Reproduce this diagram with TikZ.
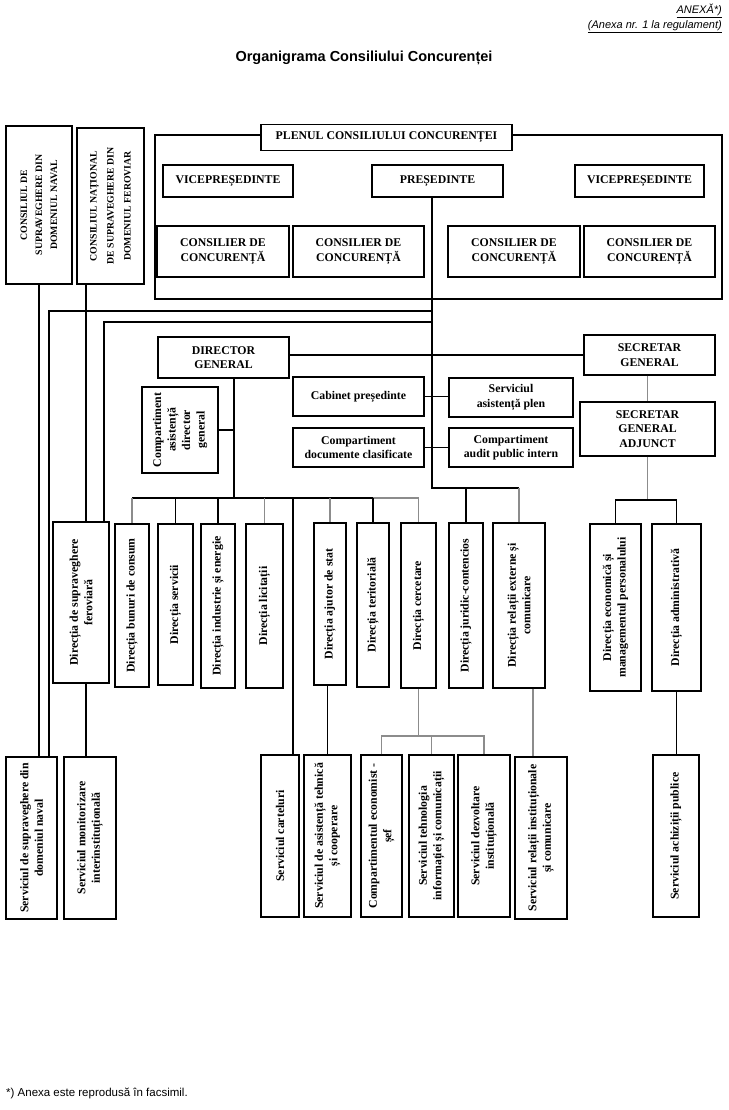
\documentclass[tikz,border=0pt]{standalone}
\usepackage{fontspec}
\setmainfont{Liberation Serif}
\newfontfamily\arial{Liberation Sans}

\begin{document}
\begin{tikzpicture}
    [
        x = 1pt, y = -1pt,
        box/.style = {draw, fill = white, line width = 1.3pt, inner sep = 1pt, align = center,
            font = \bfseries\fontsize{11.8}{14.5}\selectfont},
        vbox/.style = {box, rotate = 90},
        capsbox/.style = {vbox, font = \bfseries\fontsize{9.8}{15}\selectfont},
        link/.style = {line width = 1.1pt},
        grey link/.style = {link, draw = black!45},
        plain/.style = {inner sep = 0}
    ]
        \useasboundingbox (0,0) rectangle (728,1110);

        \node[plain, anchor = east, font = \arial\itshape\fontsize{11}{13}\selectfont] (Anexa) at (722,11) {\underline{ANEXĂ*)}};
        \node[plain, anchor = east, font = \arial\itshape\fontsize{11}{13}\selectfont] (Regulament) at (722,27) {\underline{(Anexa nr. 1 la regulament)}};
        \node[plain, font = \arial\bfseries\fontsize{14.5}{17}\selectfont] (Titlu) at (364,58) {Organigrama Consiliului Concurenței};
        \node[plain, anchor = west, font = \arial\fontsize{11.5}{14}\selectfont] (Nota) at (6,1093) {*) Anexa este reprodusă în facsimil.};

        \node[capsbox, minimum width = 158, minimum height = 66] (ConsNaval) at (39,205) {CONSILIUL DE\\SUPRAVEGHERE DIN\\DOMENIUL NAVAL};
        \node[capsbox, minimum width = 156, minimum height = 67, font = \bfseries\fontsize{9.8}{17}\selectfont] (ConsFero) at (110.5,206) {CONSILIUL NAȚIONAL\\DE SUPRAVEGHERE DIN\\DOMENIUL FEROVIAR};

        \node[draw, line width = 1.3pt, minimum width = 567, minimum height = 164] (PlenulFrame) at (438.5,217) {};
        \node[box, minimum width = 251, minimum height = 26] (Plenul) at (386.5,137.5) {PLENUL CONSILIULUI CONCURENȚEI};
        \node[box, minimum width = 130, minimum height = 32] (Vice1) at (228,181) {VICEPREȘEDINTE};
        \node[box, minimum width = 131, minimum height = 32] (Presedinte) at (437.5,181) {PREȘEDINTE};
        \node[box, minimum width = 129, minimum height = 32] (Vice2) at (639.5,181) {VICEPREȘEDINTE};
        \node[box, minimum width = 132, minimum height = 51] (Cons1) at (223,251.5) {CONSILIER DE\\CONCURENȚĂ};
        \node[box, minimum width = 131, minimum height = 51] (Cons2) at (358.5,251.5) {CONSILIER DE\\CONCURENȚĂ};
        \node[box, minimum width = 132, minimum height = 51] (Cons3) at (514,251.5) {CONSILIER DE\\CONCURENȚĂ};
        \node[box, minimum width = 131, minimum height = 51] (Cons4) at (649.5,251.5) {CONSILIER DE\\CONCURENȚĂ};

        \node[box, minimum width = 131, minimum height = 41] (DirGen) at (223.5,357.5) {DIRECTOR\\GENERAL};
        \node[vbox, minimum width = 86, minimum height = 76] (AsistDG) at (180,430) {Compartiment\\asistență\\director\\general};
        \node[box, minimum width = 131, minimum height = 39] (Cabinet) at (358.5,396.5) {Cabinet președinte};
        \node[box, minimum width = 124, minimum height = 39] (AsistPlen) at (511,397.5) {Serviciul\\asistență plen};
        \node[box, minimum width = 131, minimum height = 39] (Documente) at (358.5,447.5) {Compartiment\\documente clasificate};
        \node[box, minimum width = 124, minimum height = 39] (Audit) at (511,447.5) {Compartiment\\audit public intern};
        \node[box, minimum width = 131, minimum height = 40] (SecGen) at (649.5,355) {SECRETAR\\GENERAL};
        \node[box, minimum width = 135, minimum height = 54] (SecAdj) at (647.5,429) {SECRETAR\\GENERAL\\ADJUNCT};

        \node[vbox, minimum width = 161, minimum height = 56] (DirFero) at (81,602.5) {Direcția de supraveghere\\feroviară};
        \node[vbox, minimum width = 163, minimum height = 34] (Bunuri) at (132,605.5) {Direcția bunuri de consum};
        \node[vbox, minimum width = 161, minimum height = 35] (Servicii) at (175.5,604.5) {Direcția servicii};
        \node[vbox, minimum width = 164, minimum height = 34] (Industrie) at (218,606) {Direcția industrie și energie};
        \node[vbox, minimum width = 164, minimum height = 37] (Licitatii) at (264.5,606) {Direcția licitații};
        \node[vbox, minimum width = 162, minimum height = 32] (Ajutor) at (330,604) {Direcția ajutor de stat};
        \node[vbox, minimum width = 164, minimum height = 32] (Teritoriala) at (373,605) {Direcția teritorială};
        \node[vbox, minimum width = 165, minimum height = 35] (Cercetare) at (418.5,605.5) {Direcția cercetare};
        \node[vbox, minimum width = 165, minimum height = 34] (Juridic) at (466,605.5) {Direcția juridic-contencios};
        \node[vbox, minimum width = 165, minimum height = 52] (RelExt) at (519,605.5) {Direcția relații externe și\\comunicare};
        \node[vbox, minimum width = 167, minimum height = 51] (Economica) at (615.5,607.5) {Direcția economică și\\managementul personalului};
        \node[vbox, minimum width = 167, minimum height = 49] (Administrativa) at (676.5,607.5) {Direcția administrativă};

        \node[vbox, minimum width = 162, minimum height = 51] (ServNaval) at (31.5,838) {Serviciul de supraveghere din\\domeniul naval};
        \node[vbox, minimum width = 162, minimum height = 52] (Monitorizare) at (90,838) {Serviciul monitorizare\\interinstituțională};
        \node[vbox, minimum width = 162, minimum height = 38] (Carteluri) at (280,836) {Serviciul carteluri};
        \node[vbox, minimum width = 162, minimum height = 47] (AsistTehnica) at (327.5,836) {Serviciul de asistență tehnică\\și cooperare};
        \node[vbox, minimum width = 162, minimum height = 41] (Economist) at (381.5,836) {Compartimentul economist -\\șef};
        \node[vbox, minimum width = 162, minimum height = 45] (Tehnologie) at (431.5,836) {Serviciul tehnologia\\informației și comunicații};
        \node[vbox, minimum width = 162, minimum height = 52] (Dezvoltare) at (484,836) {Serviciul dezvoltare\\instituțională};
        \node[vbox, minimum width = 162, minimum height = 52] (RelInst) at (541,838) {Serviciul relații instituționale\\și comunicare};
        \node[vbox, minimum width = 162, minimum height = 46] (Achizitii) at (676,836) {Serviciul achiziții publice};

        \coordinate (Trunk) at (432,488);
        \coordinate (RailNaval) at (49,311);
        \coordinate (RailFero) at (104,322);
        \coordinate (RailB) at (86,0);
        \coordinate (RailDG) at (234,498);
        \coordinate (RailCarteluri) at (293,498);
        \coordinate (RailRelatii) at (533,0);
        \coordinate (BusDirectii) at (0,498);
        \coordinate (BusSecretar) at (0,500);
        \coordinate (BusCercetare) at (0,736);

        \draw[link] (Presedinte.south -| Trunk) -- (Trunk) -- (Trunk -| RelExt.east);
        \draw[grey link] (Trunk -| RelExt.east) -- (RelExt.east);
        \draw[link] (Trunk -| Juridic.east) -- (Juridic.east);
        \draw[link] (RailNaval -| Trunk) -- (RailNaval) -- (RailNaval |- ServNaval.east);
        \draw[link] (RailFero -| Trunk) -- (RailFero) -- (RailFero |- DirFero.east);
        \draw[link] (ConsNaval.west) -- (ConsNaval.west |- ServNaval.east);
        \draw[link] (ConsFero.west -| RailB) -- (DirFero.east -| RailB);
        \draw[link] (DirFero.west -| RailB) -- (Monitorizare.east -| RailB);

        \draw[link] (DirGen.east |- SecGen.west) -- (SecGen.west);
        \draw[link] (Cabinet.east) -- (Cabinet.east -| AsistPlen.west);
        \draw[link] (Documente.east) -- (Documente.east -| Audit.west);
        \draw[link] (DirGen.south -| RailDG) -- (RailDG);
        \draw[link] (AsistDG.south) -- (AsistDG.south -| RailDG);

        \draw[link] (Bunuri.east |- BusDirectii) -- (Teritoriala.east |- BusDirectii);
        \draw[grey link] (Teritoriala.east |- BusDirectii) -- (Cercetare.east |- BusDirectii);
        \foreach \dir in {Servicii, Industrie, Teritoriala}
            \draw[link] (\dir.east |- BusDirectii) -- (\dir.east);
        \foreach \dir in {Bunuri, Licitatii, Ajutor, Cercetare}
            \draw[grey link] (\dir.east |- BusDirectii) -- (\dir.east);
        \draw[link] (RailCarteluri) -- (RailCarteluri |- Carteluri.east);

        \draw[grey link] (SecAdj.north |- SecGen.south) -- (SecAdj.north);
        \draw[grey link] (SecAdj.south) -- (SecAdj.south |- BusSecretar);
        \draw[link] (Economica.east) -- (Economica.east |- BusSecretar) -- (Administrativa.east |- BusSecretar) -- (Administrativa.east);

        \draw[link] (Ajutor.west -| AsistTehnica.east) -- (AsistTehnica.east);
        \draw[grey link] (Cercetare.west) -- (Cercetare.west |- BusCercetare);
        \draw[grey link] (Economist.east) -- (Economist.east |- BusCercetare) -- (Dezvoltare.east |- BusCercetare) -- (Dezvoltare.east);
        \draw[grey link] (Tehnologie.east |- BusCercetare) -- (Tehnologie.east);
        \draw[grey link] (RelExt.west -| RailRelatii) -- (RelInst.east -| RailRelatii);
        \draw[link] (Administrativa.west) -- (Administrativa.west |- Achizitii.east);
    \end{tikzpicture}
\end{document}
